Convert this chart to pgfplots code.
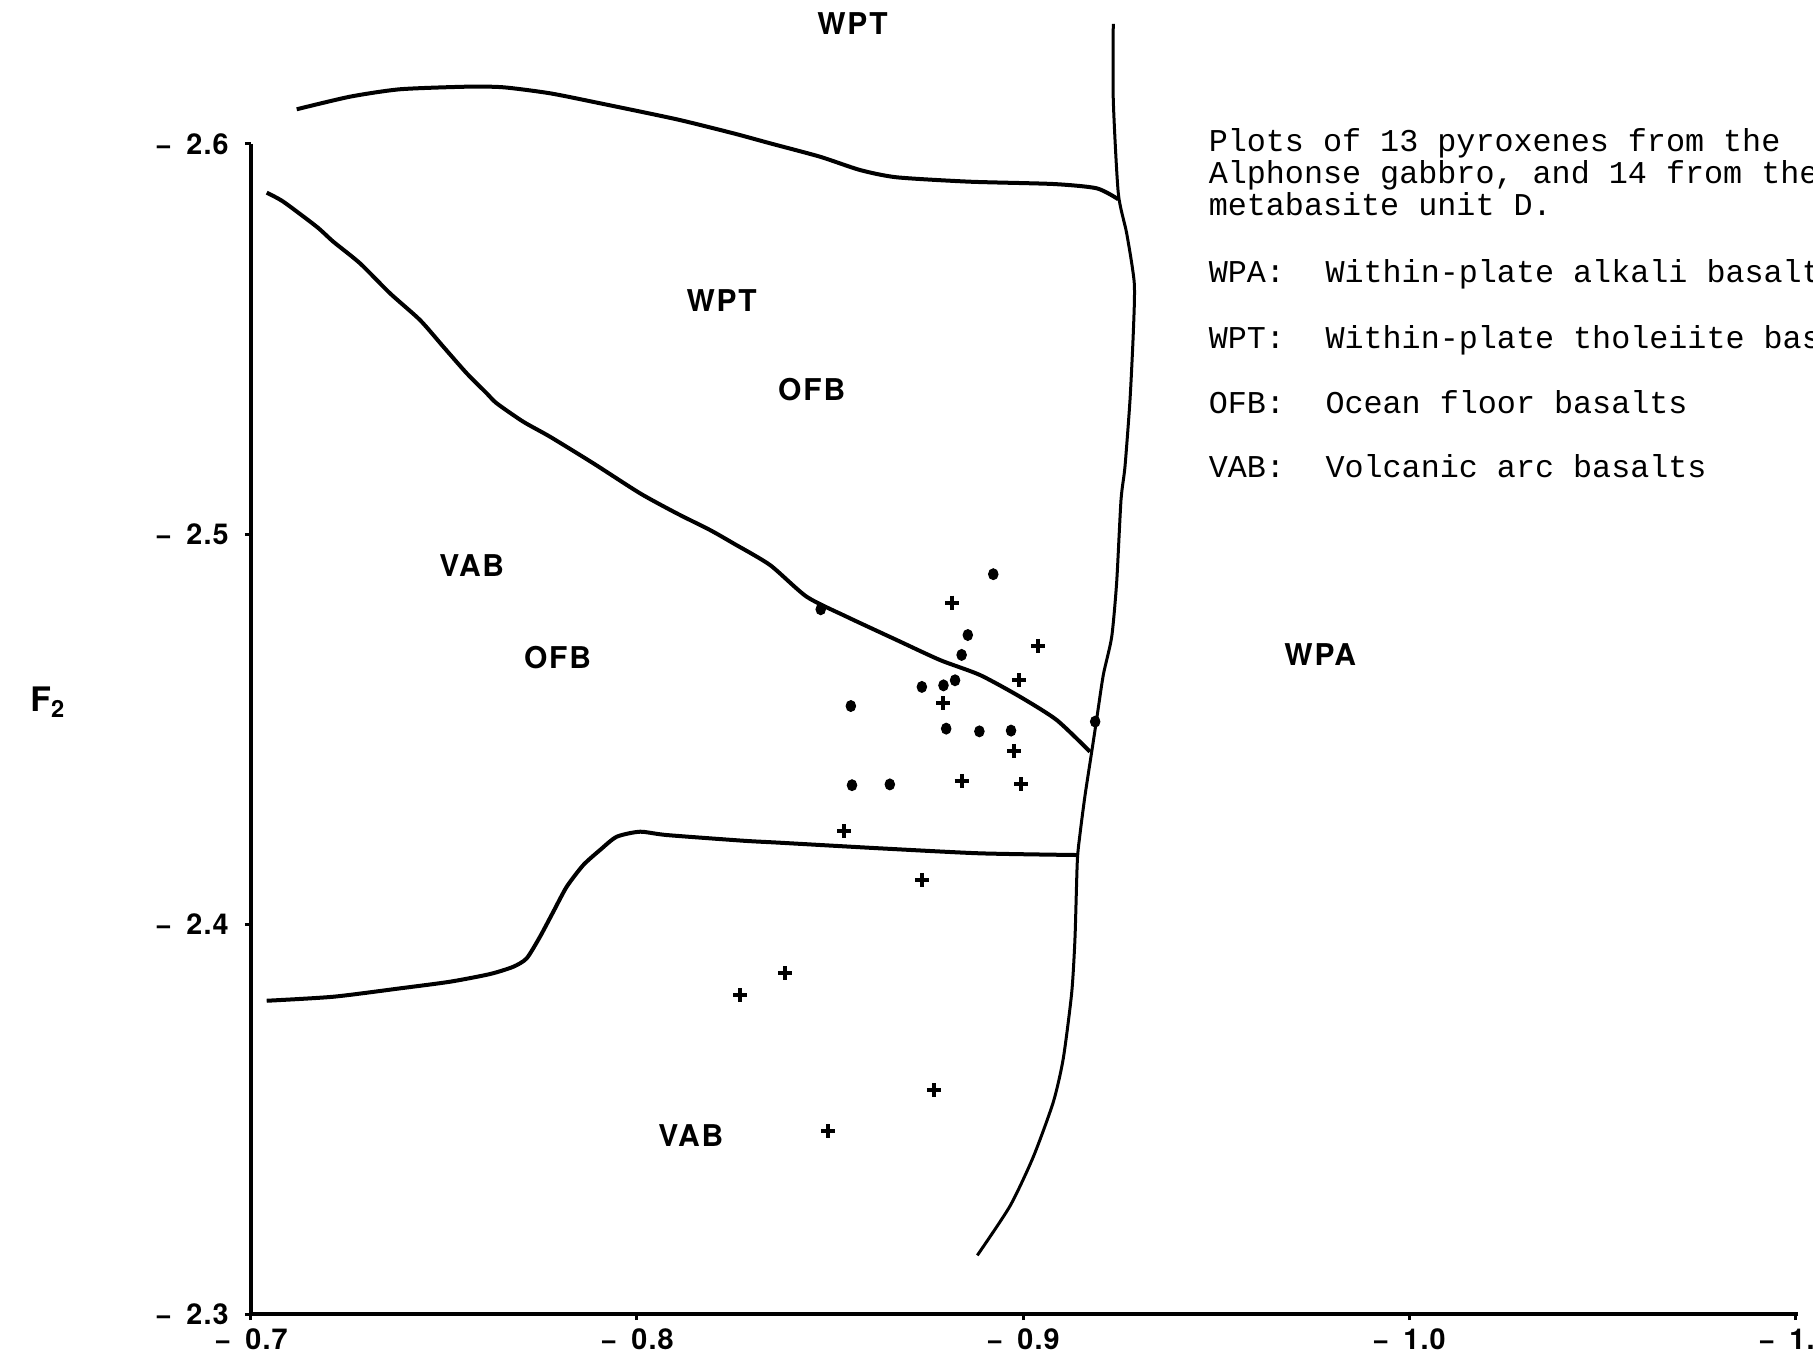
\documentclass[border=0pt]{standalone}
\usepackage{fontspec}
\usepackage{pgfplots}
\pgfplotsset{compat=1.18}
\newfontfamily\labelfont[LetterSpace=6]{TeX Gyre Heros}
\newfontfamily\tickfont[LetterSpace=4]{TeX Gyre Heros}
\newfontfamily\typefont{Liberation Mono}

\begin{document}
\begin{tikzpicture}
\begin{axis}[
  scale only axis,
  width=618.8pt, height=468pt,
  x dir=reverse, y dir=reverse,
  xmin=-1.1008, xmax=-0.7,
  ymin=-2.6, ymax=-2.3,
  axis x line=bottom, axis y line=left,
  axis line style={-, line width=1.6pt},
  clip=false,
  xtick={-0.7,-0.8,-0.9,-1.0,-1.1},
  xticklabels={−\enspace0.7,−\enspace0.8,−\enspace0.9,−\enspace1.0,−\enspace1.1},
  ytick={-2.6,-2.5,-2.4,-2.3},
  yticklabels={−\enspace2.6,−\enspace2.5,−\enspace2.4,−\enspace2.3},
  ticklabel style={font=\fontsize{11.5}{13}\tickfont\bfseries},
  yticklabel style={xshift=-3pt},
  tick style={black, line width=1.2pt},
  major tick length=2.4pt,
  tick align=outside,
]
% region boundaries
\addplot[black, line width=1.6pt, smooth, tension=0.4] coordinates {
  (-0.71184,-2.60890) (-0.72565,-2.61213) (-0.73860,-2.61403) (-0.75588,-2.61469)
  (-0.76536,-2.61454) (-0.77746,-2.61300) (-0.79041,-2.61044) (-0.81028,-2.60633)
  (-0.82495,-2.60274) (-0.83446,-2.60018) (-0.84741,-2.59674) (-0.85777,-2.59333)
  (-0.86728,-2.59146) (-0.88627,-2.59033) (-0.90785,-2.58974) (-0.91909,-2.58864)
  (-0.92469,-2.58582)};
\addplot[black, line width=1.2pt, smooth, tension=0.4] coordinates {
  (-0.92339,-2.63077) (-0.92339,-2.61128) (-0.92469,-2.58736) (-0.92686,-2.57710)
  (-0.92883,-2.56428) (-0.92857,-2.55146) (-0.92772,-2.53436) (-0.92642,-2.51726)
  (-0.92539,-2.50872) (-0.92427,-2.48769) (-0.92298,-2.47364) (-0.92080,-2.46385)
  (-0.91909,-2.45256) (-0.91780,-2.44415) (-0.91606,-2.43292) (-0.91477,-2.42310)
  (-0.91407,-2.41610) (-0.91347,-2.39644) (-0.91262,-2.38241) (-0.91044,-2.36556)
  (-0.90785,-2.35436) (-0.90267,-2.34031) (-0.89663,-2.32769) (-0.88816,-2.31505)};
\addplot[black, line width=1.6pt, smooth, tension=0.4] coordinates {
  (-0.70407,-2.58751) (-0.70837,-2.58521) (-0.71702,-2.57879) (-0.72132,-2.57495)
  (-0.72824,-2.56941) (-0.73601,-2.56172) (-0.74378,-2.55487) (-0.74982,-2.54803)
  (-0.75588,-2.54121) (-0.76106,-2.53608) (-0.76365,-2.53351) (-0.77054,-2.52879)
  (-0.77746,-2.52495) (-0.78868,-2.51813) (-0.80078,-2.51044) (-0.81028,-2.50531)
  (-0.81891,-2.50103) (-0.82495,-2.49762) (-0.83446,-2.49205) (-0.84396,-2.48392)
  (-0.85433,-2.47879) (-0.86728,-2.47282) (-0.87850,-2.46769) (-0.88886,-2.46385)
  (-0.89922,-2.45828) (-0.90873,-2.45231) (-0.91736,-2.44418)};
\addplot[black, line width=1.6pt, smooth, tension=0.4] coordinates {
  (-0.70407,-2.38033) (-0.72132,-2.38136) (-0.73860,-2.38351) (-0.75155,-2.38521)
  (-0.76192,-2.38718) (-0.76795,-2.38905) (-0.77142,-2.39121) (-0.77487,-2.39674)
  (-0.77832,-2.40315) (-0.78179,-2.40956) (-0.78609,-2.41513) (-0.79041,-2.41897)
  (-0.79474,-2.42238) (-0.80078,-2.42367) (-0.80769,-2.42282) (-0.82754,-2.42136)
  (-0.83705,-2.42085) (-0.86295,-2.41941) (-0.88886,-2.41813) (-0.91433,-2.41769)};
% pyroxene analyses: dots
\addplot[only marks, mark=*, black, mark size=1.9pt,
  mark options={yscale=1.15}] coordinates {
  (-0.8923,-2.4897) (-0.8476,-2.4807) (-0.8857,-2.4741) (-0.8841,-2.4690)
  (-0.8738,-2.4608) (-0.8794,-2.4612) (-0.8824,-2.4625) (-0.8554,-2.4559)
  (-0.8801,-2.4501) (-0.8887,-2.4494) (-0.8969,-2.4496) (-0.9187,-2.4519)
  (-0.8557,-2.4356) (-0.8655,-2.4358)};
% pyroxene analyses: crosses
\addplot[only marks, mark=+, black, mark size=2.8pt,
  mark options={line width=1.6pt}] coordinates {
  (-0.8817,-2.4824) (-0.9040,-2.4713) (-0.8989,-2.4625) (-0.8794,-2.4566)
  (-0.8977,-2.4444) (-0.8841,-2.4367) (-0.8996,-2.4359) (-0.8537,-2.4238)
  (-0.8739,-2.4113) (-0.8383,-2.3874) (-0.8267,-2.3818) (-0.8769,-2.3574)
  (-0.8496,-2.3469)};
% field names
\begin{scope}[every node/.style={font=\fontsize{12}{14}\labelfont\bfseries, inner sep=0}]
\node at (axis cs:-0.85583,-2.63077) {WPT};
\node at (axis cs:-0.82194,-2.55979) {WPT};
\node at (axis cs:-0.84526,-2.53692) {OFB};
\node at (axis cs:-0.75718,-2.49179) {VAB};
\node at (axis cs:-0.77940,-2.46833) {OFB};
\node at (axis cs:-0.81394,-2.34564) {VAB};
\node at (axis cs:-0.97700,-2.46897) {WPA};
\end{scope}
\node[font=\fontsize{13.5}{15}\labelfont\bfseries, inner sep=0]
  at (axis cs:-0.64741,-2.45692) {F\textsubscript{2}};
% caption and key
\begin{scope}[every node/.style={font=\fontsize{12.7}{15}\typefont, inner sep=0, anchor=base west}]
\node at (axis cs:-0.94800,-2.59803) {Plots of 13 pyroxenes from the};
\node at (axis cs:-0.94800,-2.58992) {Alphonse gabbro, and 14 from the};
\node at (axis cs:-0.94800,-2.58154) {metabasite unit D.};
\node at (axis cs:-0.94800,-2.56444) {WPA:};
\node at (axis cs:-0.97824,-2.56444) {Within-plate alkali basalts};
\node at (axis cs:-0.94800,-2.54762) {WPT:};
\node at (axis cs:-0.97824,-2.54762) {Within-plate tholeiite basalts};
\node at (axis cs:-0.94800,-2.53095) {OFB:};
\node at (axis cs:-0.97824,-2.53095) {Ocean floor basalts};
\node at (axis cs:-0.94800,-2.51444) {VAB:};
\node at (axis cs:-0.97824,-2.51444) {Volcanic arc basalts};
\end{scope}
\coordinate (bbA) at (axis cs:-0.63497,-2.63692);
\coordinate (bbB) at (axis cs:-1.10466,-2.28872);
\end{axis}
\pgfresetboundingbox
\path[use as bounding box] (bbA) rectangle (bbB);
\end{tikzpicture}
\end{document}
